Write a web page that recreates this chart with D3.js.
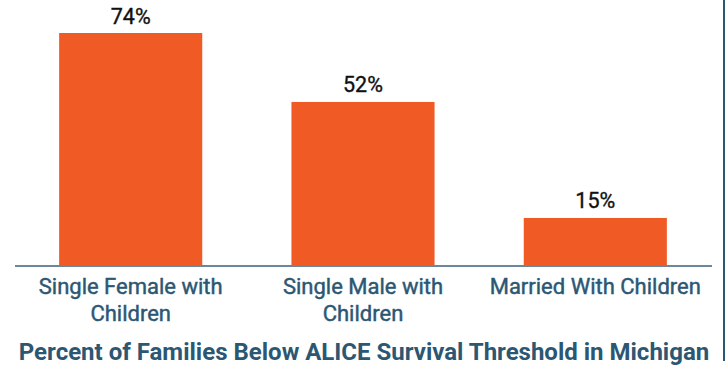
<!DOCTYPE html>
<html>
<head>
<meta charset="utf-8">
<script src="https://cdn.jsdelivr.net/npm/d3@7"></script>
<style>
  body { margin: 0; background: #fff; }
  svg { display: block; font-family: Roboto, sans-serif; }
</style>
</head>
<body>
<div id="chart"></div>
<script>
// chart data
var categories = [['Single Female with', 'Children'], ['Single Male with', 'Children'], ['Married With Children']];
var values = [74, 52, 15];
var title = 'Percent of Families Below ALICE Survival Threshold in Michigan';

var width = 728, height = 366;
var baseY = 265;

var svg = d3.select('#chart')
  .append('svg')
  .attr('width', width)
  .attr('height', height);

// x: one band per category
var x = d3.scaleBand()
  .domain(d3.range(values.length))
  .range([15, 711])
  .paddingInner(0.384)
  .paddingOuter(0.19);

// y: percent to pixels
var y = d3.scaleLinear()
  .domain([0, 74])
  .range([baseY, 33]);

// bars
svg.selectAll('rect.bar')
  .data(values)
  .enter().append('rect')
    .attr('class', 'bar')
    .attr('x', function(d, i) { return x(i); })
    .attr('y', function(d) { return y(d); })
    .attr('width', x.bandwidth())
    .attr('height', function(d) { return baseY - y(d); })
    .attr('fill', '#f05a24');

// value labels (regular weight, thin stroke to thicken a bit)
svg.selectAll('text.value')
  .data(values)
  .enter().append('text')
    .attr('class', 'value')
    .attr('x', function(d, i) { return x(i) + x.bandwidth() / 2; })
    .attr('y', function(d) { return y(d) - 9.5; })
    .attr('text-anchor', 'middle')
    .attr('font-size', 21.5)
    .attr('fill', '#111')
    .attr('stroke', '#111')
    .attr('stroke-width', 0.35)
    .text(function(d) { return d + '%'; });

// baseline
svg.append('line')
  .attr('x1', 15).attr('x2', 712)
  .attr('y1', baseY + 1).attr('y2', baseY + 1)
  .attr('stroke', '#6b8799')
  .attr('stroke-width', 2);

// category labels
var cat = svg.selectAll('text.cat')
  .data(categories)
  .enter().append('text')
    .attr('class', 'cat')
    .attr('text-anchor', 'middle')
    .attr('font-size', 22)
    .attr('fill', '#2c5773')
    .attr('stroke', '#2c5773')
    .attr('stroke-width', 0.45);

cat.selectAll('tspan')
  .data(function(d, i) { return d.map(function(t) { return {t: t, i: i}; }); })
  .enter().append('tspan')
    .attr('x', function(d) { return x(d.i) + x.bandwidth() / 2; })
    .attr('y', function(d, j) { return 294 + j * 27; })
    .text(function(d) { return d.t; });

// title
svg.append('text')
  .attr('x', 364)
  .attr('y', 360)
  .attr('text-anchor', 'middle')
  .attr('font-size', 24)
  .attr('font-weight', 700)
  .attr('fill', '#2c5773')
  .text(title);

// right border line
svg.append('line')
  .attr('x1', 724).attr('x2', 724)
  .attr('y1', 0).attr('y2', 361)
  .attr('stroke', '#2c5773')
  .attr('stroke-width', 2);
</script>
</body>
</html>
